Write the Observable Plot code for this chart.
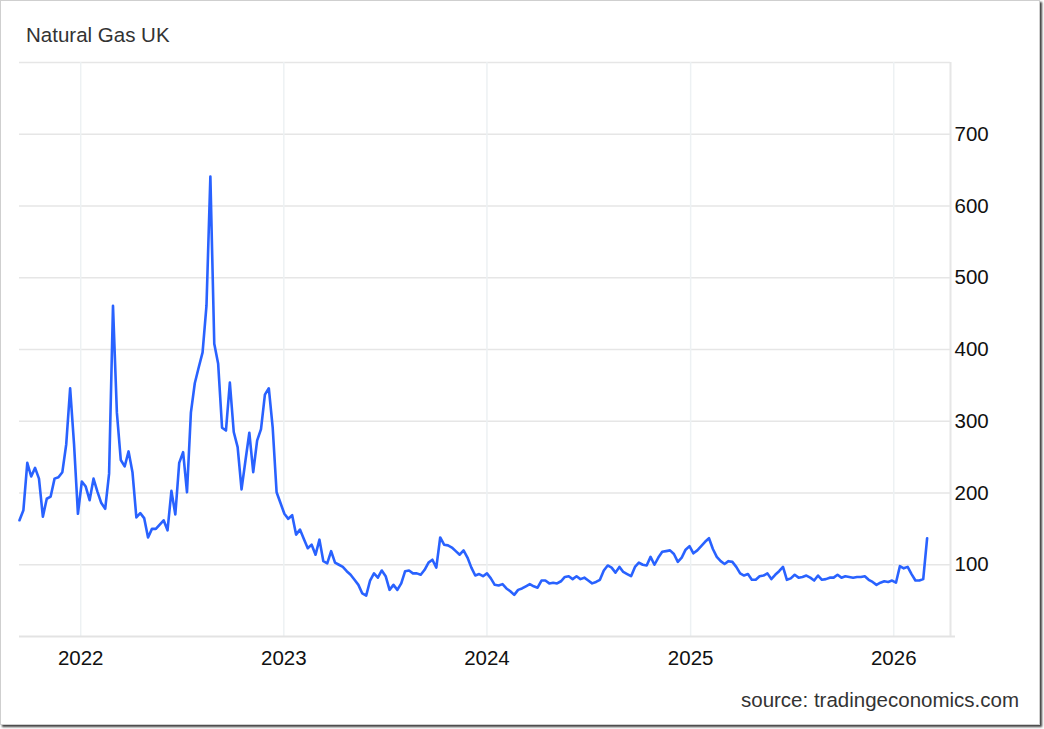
<!DOCTYPE html>
<html>
<head>
<meta charset="utf-8">
<script src="https://cdn.jsdelivr.net/npm/d3@7"></script>
<script src="https://cdn.jsdelivr.net/npm/@observablehq/plot@0.6"></script>
<style>
  html, body { margin: 0; padding: 0; background: #fff; overflow: hidden; width: 1044px; height: 729px; }
  body { font-family: Arial, "Liberation Sans", sans-serif; }
  #frame { position: absolute; left: 0; top: 0; width: 1038px; height: 723px; border: 1px solid #cfcfcf; box-shadow: 2px 2px 2px rgba(0,0,0,0.75); background: #fff; }
  #title { position: absolute; left: 26px; top: 25px; font-size: 20.5px; line-height: 20px; color: #333; white-space: nowrap; }
  #source { position: absolute; right: 25px; top: 690px; font-size: 20.5px; line-height: 20px; color: #333; white-space: nowrap; }
  #chart { position: absolute; left: 0; top: 50px; }
</style>
</head>
<body>
<div id="frame"></div>
<div id="title">Natural Gas UK</div>
<div id="chart"></div>
<div id="source">source: tradingeconomics.com</div>
<script>
// Weekly series, first observation and values (GBp/thm)
const startDate = "2021-09-13";
const values = [
  162, 176, 242, 223, 235, 220, 167, 192, 195, 220, 222, 229, 268, 346, 268, 171,
  216, 209, 190, 220, 202, 186, 178, 227, 461, 312, 246, 237, 258, 229, 166, 172,
  165, 138, 150, 150, 156, 162, 148, 203, 170, 242, 257, 201, 312, 353, 375, 396,
  461, 641, 408, 380, 291, 287, 354, 285, 264, 205, 245, 284, 229, 273, 289, 337,
  346, 291, 201, 186, 171, 164, 169, 142, 149, 136, 123, 128, 114, 135, 105, 102,
  119, 103, 100, 97, 91, 86, 79, 72, 60, 57, 78, 88, 82, 92, 84, 65,
  72, 65, 74, 91, 92, 88, 88, 86, 93, 103, 107, 96, 138, 128, 127, 124,
  119, 114, 120, 110, 96, 85, 87, 84, 88, 81, 72, 71, 73, 67, 63, 58,
  65, 67, 70, 73, 70, 68, 78, 78, 74, 75, 74, 77, 83, 84, 80, 84,
  80, 82, 78, 74, 76, 79, 92, 99, 96, 89, 97, 90, 87, 84, 97, 103,
  100, 99, 111, 100, 110, 118, 119, 120, 115, 104, 110, 121, 126, 116, 120, 126,
  132, 137, 122, 111, 105, 101, 105, 104, 97, 88, 85, 87, 79, 79, 84, 85,
  88, 80, 86, 91, 97, 79, 81, 86, 82, 83, 85, 82, 78, 85, 79, 80,
  82, 82, 86, 82, 84, 83, 82, 83, 83, 84, 79, 76, 72, 75, 77, 76,
  78, 75, 98, 95, 97, 87, 78, 78, 80, 137
];
const yearTicks = ["2022-01-01", "2023-01-01", "2024-01-01", "2025-01-01", "2026-01-01"];
const yTickValues = [100, 200, 300, 400, 500, 600, 700];
const yGridValues = [0, 100, 200, 300, 400, 500, 600, 700, 800];
const xDomain = ["2021-09-13", "2026-04-13"];

const start = new Date(startDate + "T00:00:00Z");
const data = values.map((v, i) => ({ date: d3.utcDay.offset(start, 7 * i), value: v }));
const years = yearTicks.map(s => new Date(s + "T00:00:00Z"));

const chart = Plot.plot({
  width: 1044,
  height: 640,
  marginLeft: 19,
  marginRight: 94,
  marginTop: 12,
  marginBottom: 54,
  style: { fontFamily: "Arial, 'Liberation Sans', sans-serif", fontSize: "20.5px", color: "#111", background: "transparent", overflow: "visible" },
  x: { type: "utc", domain: xDomain.map(s => new Date(s + "T00:00:00Z")), label: null },
  y: { domain: [0, 800], label: null },
  marks: [
    Plot.ruleY(yGridValues.filter(d => d > 0), { stroke: "#e6e6e6", strokeWidth: 1.5 }),
    Plot.ruleX(years, { stroke: "#edf1f3", strokeWidth: 1.5 }),
    Plot.ruleY([0], { stroke: "#e3e3e3", strokeWidth: 2, insetRight: -5 }),
    Plot.ruleX([new Date(xDomain[1] + "T00:00:00Z")], { stroke: "#e6e6e6", strokeWidth: 2 }),
    Plot.axisY(yTickValues, { anchor: "right", label: null, tickSize: 0, tickPadding: 4, fontSize: 20.5, fill: "#111" }),
    Plot.axisX(years, { anchor: "bottom", label: null, tickSize: 0, tickPadding: 14, fontSize: 20.5, fill: "#111", tickFormat: d3.utcFormat("%Y") }),
    Plot.line(data, { x: "date", y: "value", stroke: "#2962ff", strokeWidth: 2.6, strokeLinejoin: "round", strokeLinecap: "round" })
  ]
});
document.getElementById("chart").appendChild(chart);
</script>
</body>
</html>
